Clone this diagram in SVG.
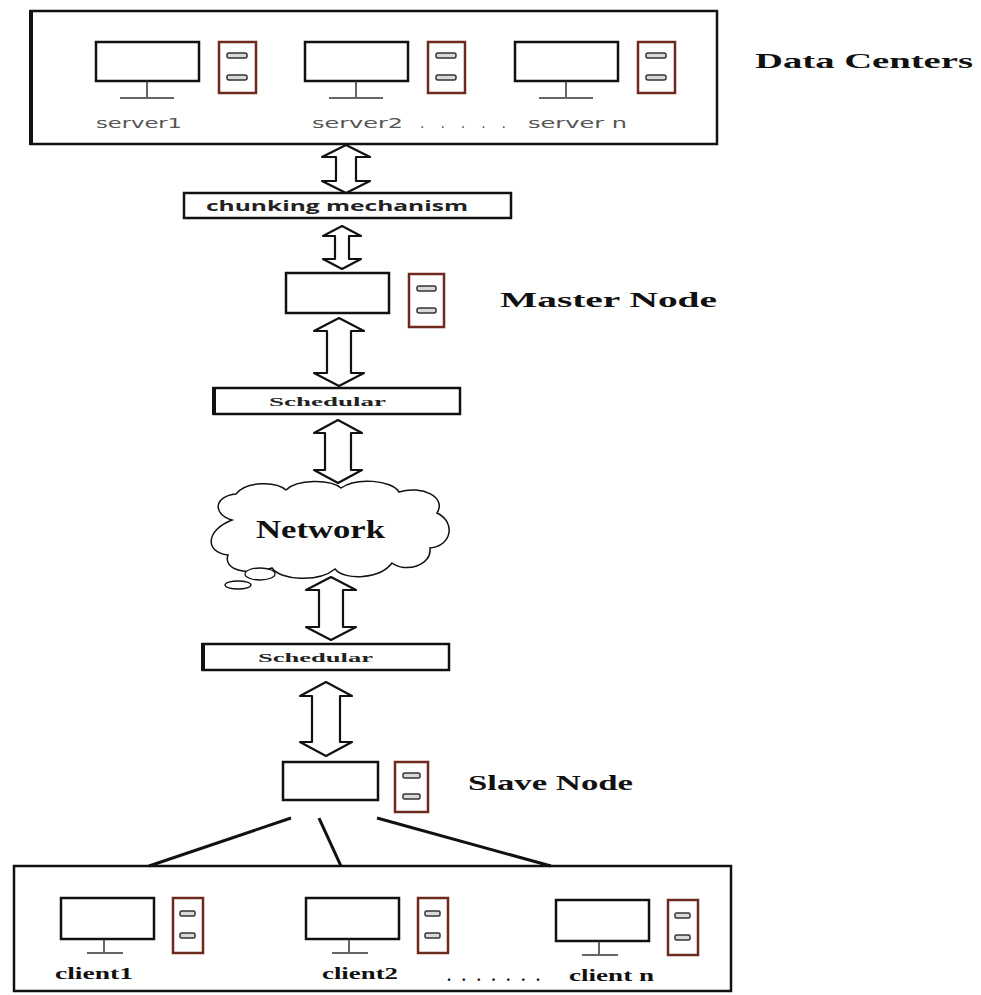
<svg xmlns="http://www.w3.org/2000/svg" xmlns:xlink="http://www.w3.org/1999/xlink" width="981" height="995" viewBox="0 0 981 995">
<style>
.box{fill:#fff;stroke:#111;stroke-width:2.5}
.mon{fill:#fff;stroke:#111;stroke-width:2.5}
.stand{stroke:#333;stroke-width:1.5}
.base{stroke:#666;stroke-width:2}
.tower{fill:#fff;stroke:#6e2a1c;stroke-width:2.5}
.slot{fill:#d9d9d9;stroke:#333;stroke-width:1.5}
.arrow{fill:#fff;stroke:#111;stroke-width:2.2;stroke-linejoin:round}
.link{stroke:#111;stroke-width:3;fill:none}
.title{font-family:"Liberation Serif","Times New Roman",serif;font-weight:bold;fill:#111}
.srv{font-family:"DejaVu Sans","Liberation Sans",sans-serif;font-size:14px;fill:#555}
.cli{font-family:"Liberation Serif","Times New Roman",serif;font-weight:bold;font-size:16px;fill:#111}
.sch{font-family:"Liberation Serif","Times New Roman",serif;font-weight:bold;font-size:13px;fill:#222}
.chunk{font-family:"Open Sans","Liberation Sans",sans-serif;font-weight:bold;font-size:15px;fill:#222}
</style>
<defs>
<g id="pcA">
<rect class="mon" x="0" y="0" width="103" height="39"/>
<line class="stand" x1="51" y1="39" x2="51" y2="56"/>
<line class="base" x1="24" y1="56" x2="78" y2="56"/>
<rect class="tower" x="123" y="0" width="37" height="51"/>
<rect class="slot" x="131" y="11" width="20" height="5" rx="2"/>
<rect class="slot" x="131" y="33" width="20" height="5" rx="2"/>
</g>
<g id="pcB">
<rect class="mon" x="0" y="0" width="93" height="41"/>
<line class="stand" x1="43" y1="41" x2="43" y2="55"/>
<line class="base" x1="26" y1="55" x2="62" y2="55"/>
<rect class="tower" x="112" y="0" width="30" height="55"/>
<rect class="slot" x="119" y="13" width="15" height="5" rx="1.5"/>
<rect class="slot" x="119" y="35" width="15" height="5" rx="1.5"/>
</g>
</defs>
<rect width="981" height="995" fill="#fff"/>

<g id="data-centers">
<rect class="box" x="31" y="11" width="686" height="133"/>
<line x1="31" y1="10" x2="31" y2="145" stroke="#111" stroke-width="4"/>
<use xlink:href="#pcA" x="96" y="42"/>
<use xlink:href="#pcA" x="305" y="42"/>
<use xlink:href="#pcA" x="515" y="42"/>
<text class="srv" x="96" y="128" textLength="86" lengthAdjust="spacingAndGlyphs">server1</text>
<text class="srv" x="312" y="128" textLength="91" lengthAdjust="spacingAndGlyphs">server2</text>
<text class="srv" x="420" y="128" textLength="86" lengthAdjust="spacing">. . . . .</text>
<text class="srv" x="528" y="128" textLength="99" lengthAdjust="spacingAndGlyphs">server n</text>
<text class="title" x="755" y="68" font-size="22" textLength="218" lengthAdjust="spacingAndGlyphs">Data Centers</text>
</g>

<g id="chunking">
<rect class="box" x="184" y="193" width="327" height="25"/>
<text class="chunk" x="206" y="211" textLength="262" lengthAdjust="spacingAndGlyphs">chunking mechanism</text>
</g>

<g id="master-node">
<rect class="mon" x="286" y="273" width="103" height="40"/>
<rect class="tower" x="409" y="274" width="35" height="53"/>
<rect class="slot" x="417" y="286" width="19" height="5" rx="2"/>
<rect class="slot" x="417" y="308" width="19" height="5" rx="2"/>
<text class="title" x="500" y="307" font-size="21" textLength="217" lengthAdjust="spacingAndGlyphs">Master Node</text>
</g>

<g id="schedular-1">
<rect class="box" x="214" y="388" width="246" height="26"/>
<line x1="214" y1="387" x2="214" y2="415" stroke="#111" stroke-width="4"/>
<text class="sch" x="269" y="406" textLength="117" lengthAdjust="spacingAndGlyphs">Schedular</text>
</g>

<g id="network">
<path d="M232,520 C212,514 214,496 236,494 C246,481 276,481 286,490 C297,479 330,479 341,488 C356,477 392,480 399,492 C422,485 447,497 437,513 C456,522 452,546 430,548 C432,566 405,573 392,563 C380,579 345,581 335,569 C318,583 280,580 272,568 C252,576 222,571 228,555 C204,552 206,530 232,520 Z" fill="#fff" stroke="#111" stroke-width="1.5"/>
<ellipse cx="260" cy="574" rx="15" ry="6" fill="#fff" stroke="#111" stroke-width="1.3"/>
<ellipse cx="238" cy="585" rx="13" ry="4" fill="#fff" stroke="#111" stroke-width="1.3"/>
<text class="title" x="256" y="538" font-size="25" textLength="129" lengthAdjust="spacingAndGlyphs">Network</text>
</g>

<g id="schedular-2">
<rect class="box" x="203" y="644" width="246" height="26"/>
<line x1="203" y1="643" x2="203" y2="671" stroke="#111" stroke-width="4"/>
<text class="sch" x="258" y="662" textLength="115" lengthAdjust="spacingAndGlyphs">Schedular</text>
</g>

<g id="slave-node">
<rect class="mon" x="283" y="762" width="95" height="38"/>
<rect class="tower" x="395" y="762" width="33" height="50"/>
<rect class="slot" x="403" y="773" width="17" height="5" rx="1.5"/>
<rect class="slot" x="403" y="794" width="17" height="5" rx="1.5"/>
<text class="title" x="468" y="790" font-size="22" textLength="165" lengthAdjust="spacingAndGlyphs">Slave Node</text>
</g>

<g id="clients">
<rect class="box" x="14" y="866" width="717" height="125" stroke-width="3"/>
<use xlink:href="#pcB" x="61" y="898"/>
<use xlink:href="#pcB" x="306" y="898"/>
<use xlink:href="#pcB" x="556" y="900"/>
<text class="cli" x="55" y="979" textLength="78" lengthAdjust="spacingAndGlyphs">client1</text>
<text class="cli" x="322" y="979" textLength="76" lengthAdjust="spacingAndGlyphs">client2</text>
<text class="cli" x="447" y="981" textLength="93" lengthAdjust="spacing">. . . . . . .</text>
<text class="cli" x="569" y="981" textLength="85" lengthAdjust="spacingAndGlyphs">client n</text>
</g>

<g id="connectors">
<path class="arrow" d="M346,145 L370,157 L356,157 L356,181 L370,181 L346,193 L322,181 L336,181 L336,157 L322,157 Z"/>
<path class="arrow" d="M342,226 L361,236 L349,236 L349,259 L361,259 L342,269 L323,259 L335,259 L335,236 L323,236 Z"/>
<path class="arrow" d="M339,318 L364,331 L351,331 L351,373 L364,373 L339,386 L314,373 L327,373 L327,331 L314,331 Z"/>
<path class="arrow" d="M338,420 L362,433 L351,433 L351,470 L362,470 L338,483 L314,470 L325,470 L325,433 L314,433 Z"/>
<path class="arrow" d="M331,577 L356,590 L343,590 L343,627 L356,627 L331,640 L306,627 L319,627 L319,590 L306,590 Z"/>
<path class="arrow" d="M326,682 L352,696 L340,696 L340,742 L352,742 L326,756 L300,742 L312,742 L312,696 L300,696 Z"/>
<line class="link" x1="291" y1="818" x2="149" y2="866"/>
<line class="link" x1="319" y1="818" x2="341" y2="866"/>
<line class="link" x1="377" y1="818" x2="551" y2="866"/>
</g>
</svg>
